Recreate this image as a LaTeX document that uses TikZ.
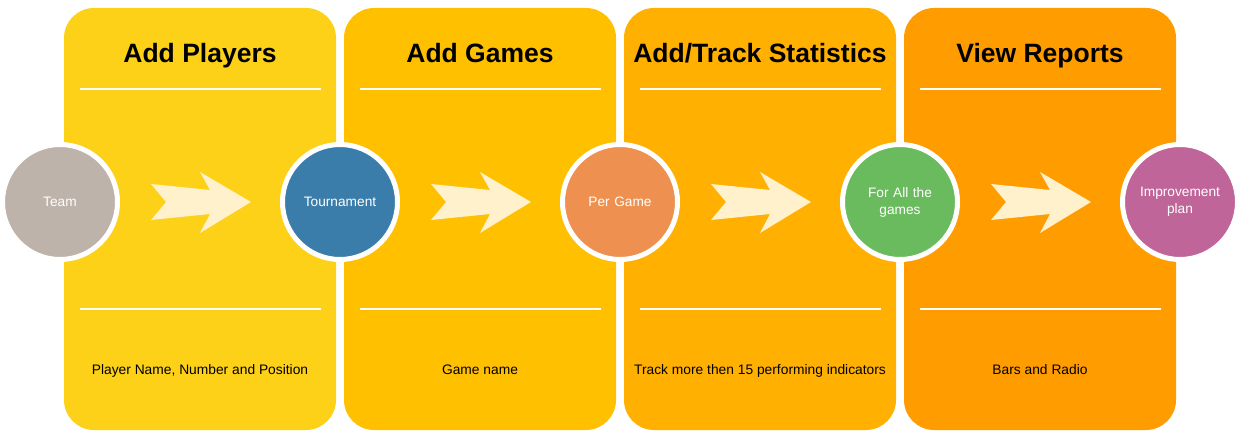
\documentclass[tikz,border=0pt]{standalone}
\usepackage{fontspec}
\setmainfont{Liberation Sans}
\definecolor{pA}{RGB}{253,209,23}
\definecolor{pB}{RGB}{255,192,0}
\definecolor{pC}{RGB}{255,176,0}
\definecolor{pD}{RGB}{255,156,0}
\definecolor{arrowc}{RGB}{255,241,204}
\definecolor{cTeam}{RGB}{189,179,170}
\definecolor{cTour}{RGB}{58,125,170}
\definecolor{cPer}{RGB}{238,145,80}
\definecolor{cAll}{RGB}{106,187,94}
\definecolor{cImp}{RGB}{191,101,153}
\tikzset{
  panel/.style={fill=#1, draw=none, rounded corners=30pt},
  sep/.style={draw=white, line width=2pt},
  title/.style={font=\fontsize{26.5}{30}\selectfont\bfseries, text=black, anchor=base, inner sep=0pt},
  desc/.style={font=\fontsize{13.8}{16}\selectfont, text=black, anchor=base, inner sep=0pt},
  stage/.style={circle, fill=#1, draw=white, line width=5pt, minimum size=115pt, inner sep=0pt,
    text=white, font=\fontsize{13.7}{17}\selectfont, align=center, text width=100pt},
  chevron/.style={fill=arrowc, draw=none}
}
\begin{document}
\begin{tikzpicture}[x=1pt,y=-1pt]
\useasboundingbox (0,0) rectangle (1241,438);
\fill[white] (0,0) rectangle (1241,438);
% panels
\foreach \cx/\col [count=\i] in {200/pA,480/pB,760/pC,1040/pD}{
  \path[panel=\col] (\cx-136,8) rectangle (\cx+136,430);
  \draw[sep] (\cx-120,89) -- (\cx+121,89);
  \draw[sep] (\cx-120,309) -- (\cx+121,309);
  \fill[chevron] (\cx,202) ++(-49,-18) -- ++(59,6) -- ++(-10,-18) -- ++(51,30) -- ++(-51,31) -- ++(10,-19) -- ++(-59,6) -- ++(15,-18) -- cycle;
}
\node[title] (t1) at (200,63) {Add Players};
\node[title] (t2) at (480,63) {Add Games};
\node[title] (t3) at (760,63) {Add/Track Statistics};
\node[title] (t4) at (1040,63) {View Reports};
\node[desc] (d1) at (200,374) {Player Name, Number and Position};
\node[desc] (d2) at (480,374) {Game name};
\node[desc] (d3) at (760,374) {Track more then 15 performing indicators};
\node[desc] (d4) at (1040,374) {Bars and Radio};
% circles
\node[stage=cTeam] (team) at (60,202) {Team};
\node[stage=cTour] (tour) at (340,202) {Tournament};
\node[stage=cPer] (per) at (620,202) {Per Game};
\node[stage=cAll] (all) at (900,202) {For All the\\games};
\node[stage=cImp] (imp) at (1180,202) {Improvement\\plan};
\end{tikzpicture}
\end{document}
